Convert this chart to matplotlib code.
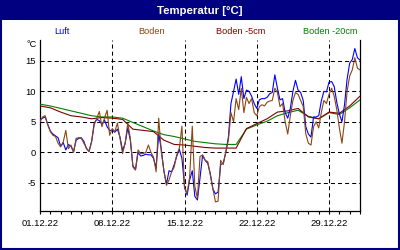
import numpy as np
import matplotlib
matplotlib.use("Agg")
import matplotlib.pyplot as plt
from matplotlib.patches import Rectangle

plt.rcParams['font.family'] = ['Liberation Sans', 'DejaVu Sans']
plt.rcParams['lines.scale_dashes'] = False

# ---- data ----
title = "Temperatur [°C]"
series_names = ["Luft", "Boden", "Boden -5cm", "Boden -20cm"]
series_colors = ["#0000ff", "#8b4513", "#800000", "#008000"]
tick_days = [0, 7, 14, 21, 28]
tick_labels = ["01.12.22", "08.12.22", "15.12.22", "22.12.22", "29.12.22"]
y_ticks = [-5, 0, 5, 10, 15]

# 6-hourly samples, day 0 = 01.12.22 00:00
t_fine = np.arange(125) * 0.25
luft = [5.3, 5.6, 5.8, 4.6, 3.5, 3.0, 2.7, 2.4, 1.0, 1.6, 0.4, 1.3,
        1.0, 0.1, 2.0, 2.3, 2.4, 1.8, 0.6, 0.2, 1.8, 4.8, 5.4, 5.2,
        4.6, 5.3, 4.2, 3.6, 3.6, 3.3, 3.8, 2.5, 0.3, 1.5, 4.0, 2.0,
        -2.2, -2.8, 0.0, -0.6, -0.5, -0.3, -0.4, -0.4, -1.0, -2.5, 3.0, 0.5,
        -3.0, -5.2, -3.0, -3.2, -2.0, -0.6, 0.5, -1.0, -5.5, -7.0, -4.5, -3.0,
        -7.2, -7.8, -4.2, -0.5, -1.3, -1.8, -3.5, -6.0, -6.8, -6.5, -2.0, -1.8,
        0.0, 2.5, 8.0, 10.0, 12.0, 9.5, 12.4, 8.8, 10.2, 10.0, 9.2, 8.0,
        7.2, 8.6, 8.8, 8.8, 9.0, 9.6, 9.8, 12.7, 10.5, 8.6, 8.8, 6.5,
        5.6, 7.2, 10.0, 11.8, 10.2, 9.8, 8.5, 4.2, 3.0, 2.5, 5.8, 5.8,
        6.0, 8.4, 10.0, 9.9, 11.5, 11.6, 10.8, 8.2, 6.3, 5.0, 7.8, 12.0,
        14.6, 15.2, 17.0, 15.5, 15.1]
boden = [5.0, 5.8, 6.0, 4.5, 3.4, 2.8, 2.6, 1.5, 0.9, 1.7, 3.6, 0.6,
         1.2, 0.0, 2.3, 2.4, 2.3, 1.5, 0.7, 0.1, 1.7, 4.5, 5.6, 6.7,
         4.2, 5.6, 6.9, 2.8, 3.9, 3.4, 4.8, 2.3, -0.2, 1.5, 4.8, 2.3,
         -2.4, -2.9, 0.4, -0.2, -0.2, 0.0, 1.2, 0.0, -0.8, -3.2, 5.6, 0.1,
         -3.0, -5.4, -4.5, -3.2, -2.4, -0.4, 0.7, 4.3, -5.9, -6.7, -4.0, 4.3,
         -5.6, -7.5, -0.7, -0.4, -1.3, -1.5, -3.7, -6.0, -8.1, -8.0, -1.3, -2.0,
         0.1, 2.0, 6.5, 5.0, 8.8, 7.0, 10.5, 6.5, 9.0, 8.0, 8.8, 6.5,
         6.0, 7.5, 7.8, 7.6, 8.2, 8.4, 8.5, 10.5, 9.8, 7.5, 8.0, 5.0,
         3.0, 6.0, 8.5, 9.8, 9.5, 8.5, 7.5, 3.0, 1.5, 1.2, 4.2, 5.0,
         4.0, 6.5, 8.5, 8.0, 9.5, 10.5, 9.2, 7.0, 4.0, 1.5, 5.0, 10.0,
         12.5, 13.5, 15.5, 13.8, 13.5]

# daily samples
t_daily = np.arange(32)
boden_5 = [7.6, 7.3, 6.6, 6.0, 5.8, 5.5, 5.7, 5.6, 5.4, 3.8, 3.6, 3.4, 2.0, 1.3, 1.2, 1.0,
           0.8, 0.7, 0.7, 0.7, 3.9, 4.7, 5.5, 6.6, 6.8, 7.2, 5.8, 5.5, 6.6, 6.4, 7.6, 9.2]
boden_20 = [7.9, 7.6, 7.2, 6.8, 6.4, 6.0, 5.8, 5.8, 5.6, 4.9, 4.2, 3.5, 2.9, 2.6, 2.2, 1.8,
            1.6, 1.4, 1.3, 1.3, 3.8, 4.5, 5.1, 6.0, 6.5, 6.9, 5.9, 5.5, 6.5, 6.2, 7.3, 8.6]

# ---- figure ----
W, H = 400, 250
fig = plt.figure(figsize=(W / 100, H / 100), dpi=100)
fig.patch.set_facecolor("white")

navy = "#000080"
# title bar and border
fig.patches.append(Rectangle((0, 1 - 20 / H), 1, 20 / H, transform=fig.transFigure,
                             facecolor=navy, edgecolor="none", zorder=0))
fig.patches.append(Rectangle((1 / W, 1 / H), 1 - 2 / W, 1 - 2 / H, transform=fig.transFigure,
                             facecolor="none", edgecolor=navy, lw=1.5, zorder=5))
fig.text(0.5, 1 - 10.5 / H, title, color="white", fontsize=8.2, fontweight="bold",
         ha="center", va="center")

legend_x = [62, 152, 241, 330]
for name, col, lx in zip(series_names, series_colors, legend_x):
    fig.text(lx / W, 1 - 31 / H, name, color=col, fontsize=6.6, ha="center", va="center")

fig.text(36.5 / W, 1 - 45 / H, "°C", color="black", fontsize=6.6, ha="right", va="center")

ax = fig.add_axes([40 / W, 1 - 211 / H, 320 / W, 171 / H])
ax.set_xlim(0, 31)
ax.set_ylim(-9.6, 18.4)

lw = 0.8
ax.plot(t_daily, boden_20, color=series_colors[3], lw=lw, zorder=3)
ax.plot(t_daily, boden_5, color=series_colors[2], lw=lw, zorder=3)
ax.plot(t_fine, luft, color=series_colors[0], lw=lw, zorder=4)
ax.plot(t_fine, boden, color=series_colors[1], lw=lw, zorder=5)

grid_kw = dict(color="black", lw=0.75, linestyle=(0, (2.9, 2.2)), zorder=2)
for d in tick_days[1:]:
    ax.axvline(d, **grid_kw)
for yv in y_ticks:
    ax.axhline(yv, **grid_kw)

ax.set_yticks(y_ticks)
ax.set_yticklabels([str(v) for v in y_ticks])
ax.set_xticks(tick_days)
ax.set_xticklabels(tick_labels)
ax.set_xticks(np.arange(32), minor=True)
ax.tick_params(axis="y", length=0, pad=3, labelsize=6.8)
ax.tick_params(axis="x", which="both", direction="out", length=2.5, width=0.8, pad=3.5,
               labelsize=6.8, color="black")

for s in ["left", "bottom", "right"]:
    ax.spines[s].set_color("black")
    ax.spines[s].set_linewidth(0.9)
ax.spines["top"].set_visible(False)

fig.savefig("out.png", dpi=100)
